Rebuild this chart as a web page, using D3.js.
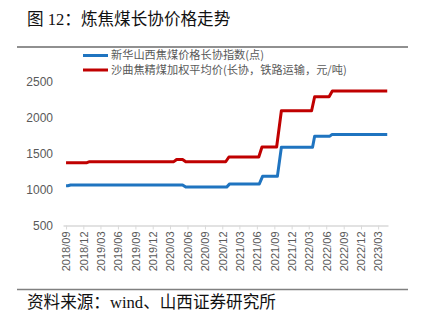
<!DOCTYPE html>
<html>
<head>
<meta charset="utf-8">
<script src="https://cdn.jsdelivr.net/npm/d3@7"></script>
<style>
  html, body { margin: 0; padding: 0; background: #fff; }
  svg { display: block; }
</style>
</head>
<body>
<svg id="chart" width="423" height="325"></svg>
<script>
// Xinhua Shanxi coking coal long-term contract index (points)
const indexDates = ["2018-09-01","2018-09-10","2018-09-25","2020-05-06","2020-05-23","2020-12-24","2021-01-09",
  "2021-06-14","2021-07-01","2021-09-17","2021-10-08","2022-03-21","2022-04-01","2022-06-20","2022-07-02","2023-04-18"];
const indexValues = [1055,1055,1065,1065,1035,1035,1080,1080,1185,1185,1590,1590,1745,1745,1770,1770];

// Shaqu coking coal weighted average price (contract, rail, yuan/t)
const priceDates = ["2018-09-01","2018-12-20","2019-01-03","2020-03-21","2020-04-05","2020-05-06","2020-05-23",
  "2020-12-19","2021-01-05","2021-06-11","2021-06-28","2021-09-13","2021-10-08","2022-03-16","2022-04-01",
  "2022-06-16","2022-07-03","2023-04-18"];
const priceValues = [1375,1375,1390,1390,1420,1420,1388,1388,1455,1455,1595,1595,2100,2100,2295,2295,2375,2375];

const seriesNames = ["新华山西焦煤价格长协指数(点)", "沙曲焦精煤加权平均价(长协，铁路运输，元/吨)"];
const seriesColors = ["#1f74c0", "#c00000"];
const yTicks = [500, 1000, 1500, 2000, 2500];
const xTickLabels = ["2018/09","2018/12","2019/03","2019/06","2019/09","2019/12","2020/03","2020/06","2020/09",
  "2020/12","2021/03","2021/06","2021/09","2021/12","2022/03","2022/06","2022/09","2022/12","2023/03"];

const parse = d3.timeParse("%Y-%m-%d");
const parseTick = d3.timeParse("%Y/%m");
const series = [
  indexDates.map((d, i) => ({ date: parse(d), value: indexValues[i] })),
  priceDates.map((d, i) => ({ date: parse(d), value: priceValues[i] }))
];

const svg = d3.select("#chart");
const cjk = "'Noto Sans CJK SC', 'Noto Sans', sans-serif";
const serifCjk = "'Liberation Serif', 'Noto Sans CJK SC', serif";

// Title and rules
svg.append("text").attr("x", 27).attr("y", 25)
  .attr("font-family", serifCjk).attr("font-size", 16.6).attr("fill", "#111")
  .text("图 12：炼焦煤长协价格走势");
svg.append("line").attr("x1", 17).attr("x2", 408).attr("y1", 47).attr("y2", 47)
  .attr("stroke", "#222").attr("stroke-width", 1.2);
svg.append("line").attr("x1", 17).attr("x2", 408).attr("y1", 289.5).attr("y2", 289.5)
  .attr("stroke", "#808080").attr("stroke-width", 1.5);
svg.append("text").attr("x", 27).attr("y", 308)
  .attr("font-family", serifCjk).attr("font-size", 16.6).attr("fill", "#111")
  .text("资料来源：wind、山西证券研究所");

// Scales
const x = d3.scaleTime()
  .domain([parse("2018-08-16"), parse("2023-04-22")])
  .range([63, 388]);
const y = d3.scaleLinear().domain([500, 2500]).range([225.5, 82]);

// Y labels (no axis line)
svg.append("g").selectAll("text").data(yTicks).join("text")
  .attr("x", 53).attr("y", d => y(d)).attr("dy", "0.35em")
  .attr("text-anchor", "end")
  .attr("font-family", "'Liberation Sans', Arial, sans-serif").attr("font-size", 12)
  .attr("fill", "#595959").text(d => d);

// X axis
const xAxis = d3.axisBottom(x)
  .tickValues(xTickLabels.map(parseTick))
  .tickSize(4).tickSizeOuter(0)
  .tickFormat(d3.timeFormat("%Y/%m"));
const gx = svg.append("g").attr("transform", `translate(0,${y(500)})`).call(xAxis);
gx.select(".domain").attr("stroke", "#d9d9d9").attr("stroke-width", 1.3);
gx.selectAll(".tick line").attr("stroke", "#d9d9d9").attr("stroke-width", 1);
gx.selectAll(".tick text")
  .attr("font-family", "'Liberation Sans', Arial, sans-serif").attr("font-size", 11)
  .attr("fill", "#595959")
  .attr("text-anchor", "end")
  .attr("transform", "rotate(-90)")
  .attr("x", -6).attr("y", 0).attr("dy", "0.35em");

// Lines
const line = d3.line().x(d => x(d.date)).y(d => y(d.value));
series.forEach((s, i) => {
  svg.append("path").datum(s)
    .attr("fill", "none").attr("stroke", seriesColors[i]).attr("stroke-width", 3)
    .attr("stroke-linejoin", "round")
    .attr("d", line);
});

// Legend
const legend = svg.append("g");
seriesNames.forEach((name, i) => {
  const ly = 55.5 + i * 14.5;
  legend.append("line").attr("x1", 83).attr("x2", 108).attr("y1", ly).attr("y2", ly)
    .attr("stroke", seriesColors[i]).attr("stroke-width", 3);
  legend.append("text").attr("x", 111).attr("y", ly).attr("dy", "0.35em")
    .attr("font-family", cjk).attr("font-size", 11.2).attr("fill", "#595959")
    .text(name);
});
</script>
</body>
</html>
